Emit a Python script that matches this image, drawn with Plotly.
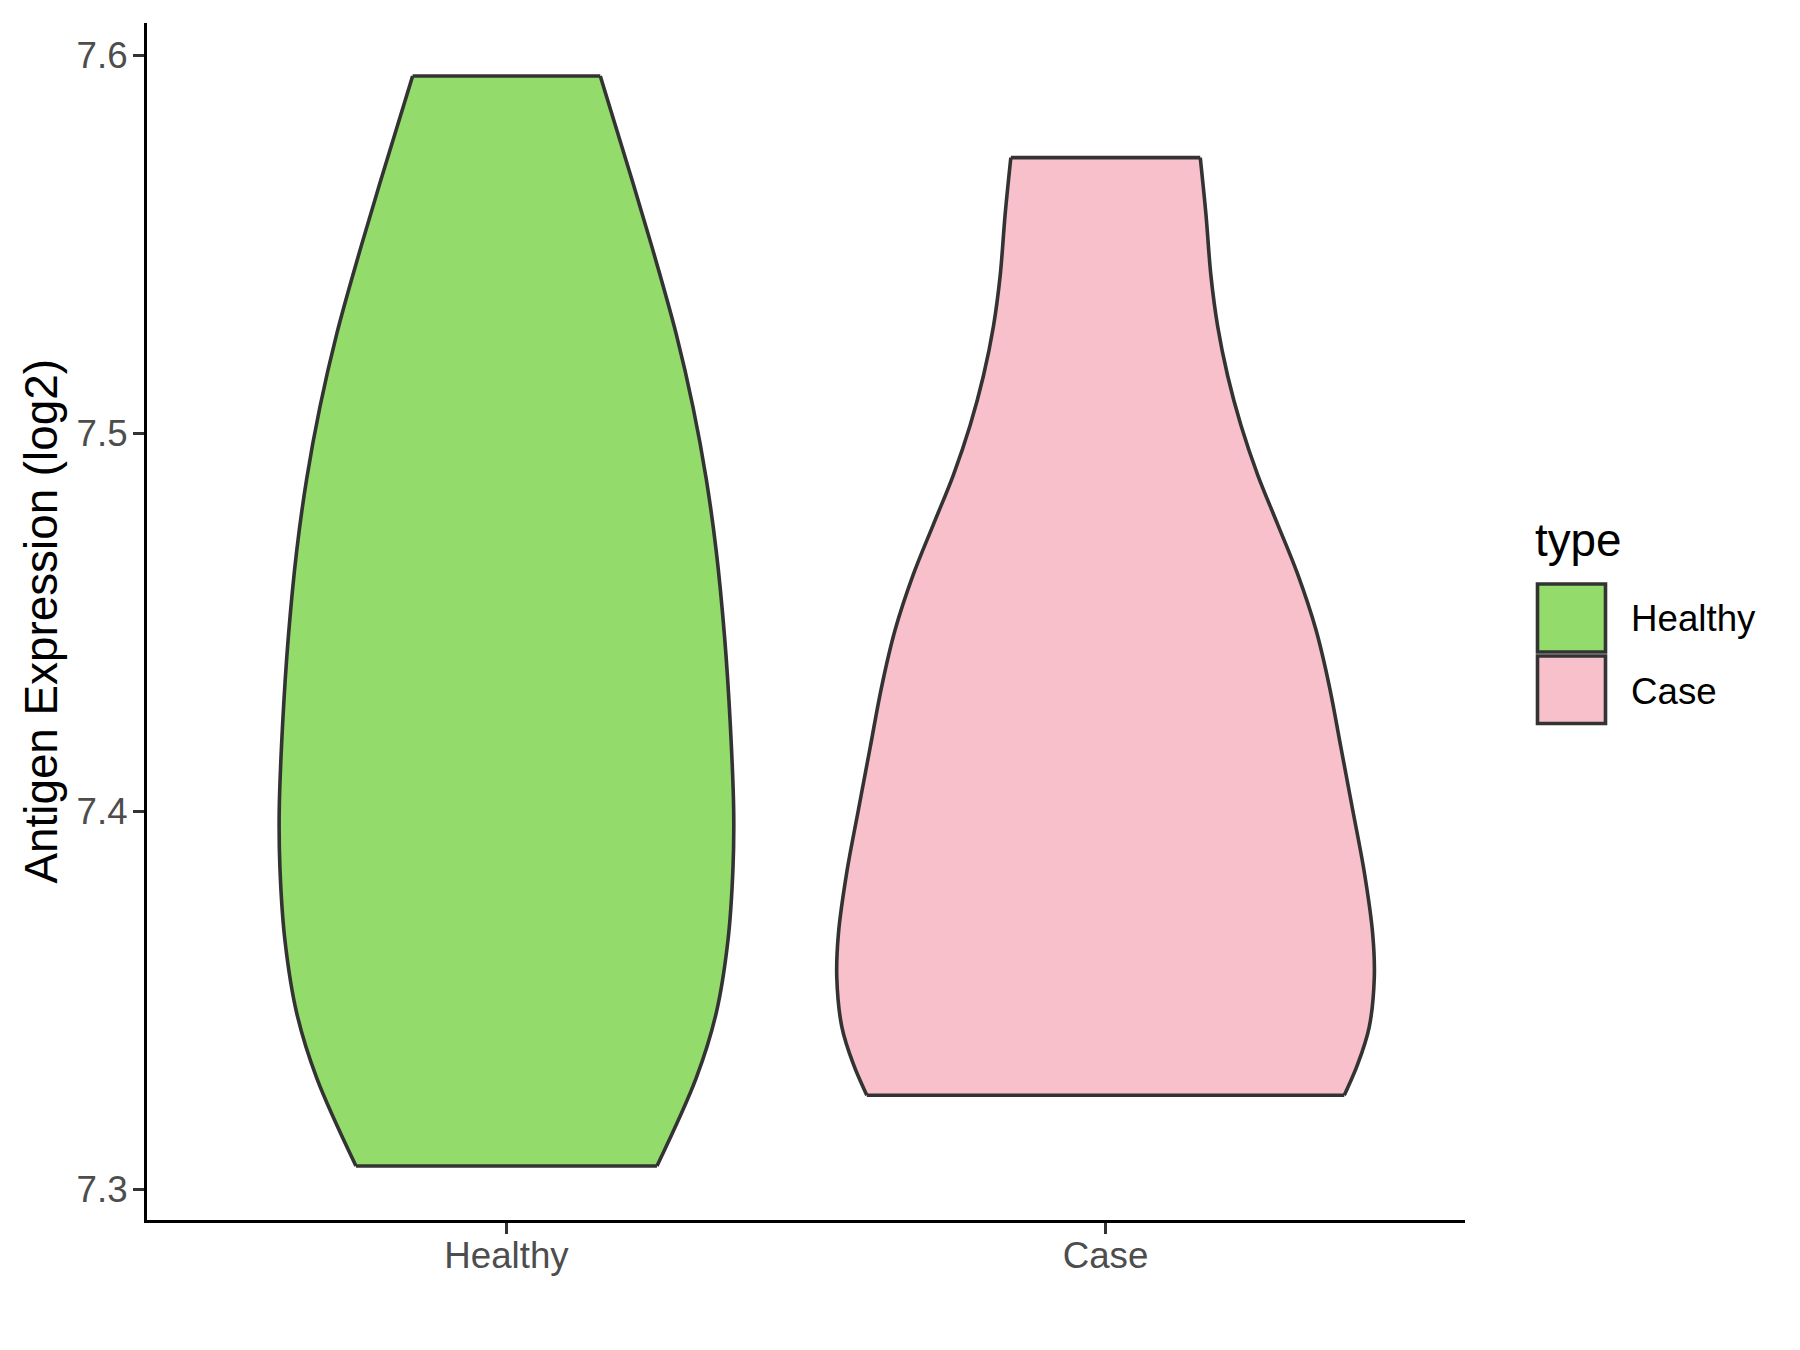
import plotly.graph_objects as go

# ---- data ----
categories = ["Healthy", "Case"]
fill_colors = ["#93DB6B", "#F7C0CB"]

# violin profiles: expression value (log2) and half-width (in category units)
healthy_y = [7.3062, 7.3295, 7.3467, 7.3658, 7.3849, 7.4001, 7.4231, 7.4459,
             7.4688, 7.4879, 7.5070, 7.5262, 7.5453, 7.5662, 7.5945]
healthy_w = [0.2512, 0.3168, 0.3502, 0.3697, 0.3781, 0.3793, 0.3736, 0.3642,
             0.3502, 0.3335, 0.3113, 0.2834, 0.2501, 0.2112, 0.1566]

case_y = [7.3249, 7.3331, 7.3430, 7.3561, 7.3676, 7.3840, 7.4004, 7.4168,
          7.4332, 7.4480, 7.4627, 7.4759, 7.4890, 7.5021, 7.5152, 7.5283,
          7.5415, 7.5579, 7.5729]
case_w = [0.3985, 0.4209, 0.4402, 0.4486, 0.4459, 0.4318, 0.4125, 0.3930,
          0.3734, 0.3512, 0.3207, 0.2873, 0.2539, 0.2260, 0.2038, 0.1871,
          0.1760, 0.1676, 0.1581]

y_ticks = [7.3, 7.4, 7.5, 7.6]
y_range = [7.2919, 7.6085]
x_range = [0.4, 2.6]
y_title = "Antigen Expression (log2)"

profiles = [(healthy_y, healthy_w), (case_y, case_w)]

# ---- layout geometry (pixels); page has an 8px body margin ----
OFF = 8
W, H = 1800 - OFF, 1350 - OFF
L, R, T, B = 147 - OFF, 335, 23 - OFF, 130
PW, PH = W - L - R, H - T - B
OUT = "#333333"
FONT = "Liberation Sans, Arial, sans-serif"

fig = go.Figure()

for i, (ys, ws) in enumerate(profiles):
    c = i + 1
    left_x = [c - w for w in ws]
    right_x = [c + w for w in ws]
    fig.add_trace(go.Scatter(x=left_x, y=ys, mode="lines",
                             line=dict(width=0, shape="spline", smoothing=1),
                             showlegend=False, hoverinfo="skip"))
    fig.add_trace(go.Scatter(x=right_x, y=ys, mode="lines", fill="tonextx",
                             fillcolor=fill_colors[i],
                             line=dict(width=0, shape="spline", smoothing=1),
                             name=categories[i], showlegend=False, hoverinfo="skip"))

for i, (ys, ws) in enumerate(profiles):
    c = i + 1
    left_x = [c - w for w in ws]
    right_x = [c + w for w in ws]
    for xs in (left_x, right_x):
        fig.add_trace(go.Scatter(x=xs, y=ys, mode="lines",
                                 line=dict(width=3.6, color=OUT, shape="spline", smoothing=1),
                                 showlegend=False, hoverinfo="skip"))
    fig.add_trace(go.Scatter(
        x=[left_x[0], right_x[0], None, left_x[-1], right_x[-1]],
        y=[ys[0], ys[0], None, ys[-1], ys[-1]],
        mode="lines", line=dict(width=3.6, color=OUT),
        showlegend=False, hoverinfo="skip"))

# ---- helpers: page pixels -> paper coordinates ----
def px2paper_x(px):
    return (px - OFF - L) / PW

def px2paper_y(py):
    return (H - B - (py - OFF)) / PH

# ---- manual legend (ggplot style) ----
key_boxes = [(1537.5, 584.0, 1605.5, 652.0), (1537.5, 656.0, 1605.5, 723.5)]
for (x0, y0, x1, y1), col in zip(key_boxes, fill_colors):
    fig.add_shape(type="rect", xref="paper", yref="paper",
                  x0=px2paper_x(x0), x1=px2paper_x(x1),
                  y0=px2paper_y(y1), y1=px2paper_y(y0),
                  fillcolor=col, line=dict(color=OUT, width=3.6))

fig.add_annotation(text="type", xref="paper", yref="paper",
                   x=px2paper_x(1533), y=px2paper_y(540),
                   xanchor="left", yanchor="middle", showarrow=False,
                   font=dict(family=FONT, size=45.8, color="black"))
for lab, yc in zip(categories, [618.5, 691.5]):
    fig.add_annotation(text=lab, xref="paper", yref="paper",
                       x=px2paper_x(1629), y=px2paper_y(yc),
                       xanchor="left", yanchor="middle", showarrow=False,
                       font=dict(family=FONT, size=36.7, color="black"))

# y-axis title (rotated)
fig.add_annotation(text=y_title, xref="paper", yref="paper",
                   x=px2paper_x(41), y=px2paper_y(621.5),
                   xanchor="center", yanchor="middle", showarrow=False,
                   textangle=-90,
                   font=dict(family=FONT, size=45.8, color="black"))

fig.update_layout(
    width=W, height=H,
    margin=dict(l=L, r=R, t=T, b=B, pad=0),
    paper_bgcolor="white", plot_bgcolor="white",
    showlegend=False,
    font=dict(family=FONT),
)
fig.update_xaxes(
    range=x_range, tickmode="array", tickvals=[1, 2], ticktext=categories,
    showgrid=False, zeroline=False,
    showline=True, linecolor="black", linewidth=3.2,
    ticks="outside", ticklen=11, tickwidth=3, tickcolor=OUT,
    tickfont=dict(family=FONT, size=36.7, color="#4D4D4D"),
    ticklabelstandoff=-10,
)
fig.update_yaxes(
    range=y_range, tickmode="array", tickvals=y_ticks,
    ticktext=[f"{v:.1f}" for v in y_ticks],
    showgrid=False, zeroline=False,
    showline=True, linecolor="black", linewidth=3.2,
    ticks="outside", ticklen=11, tickwidth=3, tickcolor=OUT,
    tickfont=dict(family=FONT, size=36.7, color="#4D4D4D"),
    ticklabelstandoff=-2,
)

fig.write_html("out.html")
